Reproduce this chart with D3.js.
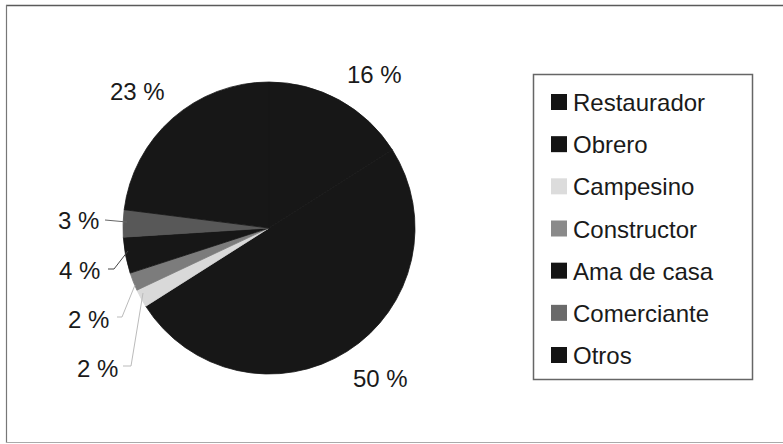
<!DOCTYPE html>
<html>
<head>
<meta charset="utf-8">
<script src="https://cdn.jsdelivr.net/npm/d3@7/dist/d3.min.js"></script>
<style>
  html, body { margin: 0; padding: 0; background: #fff; }
  svg { display: block; font-family: "Liberation Sans", Arial, sans-serif; }
</style>
</head>
<body>
<svg id="chart" width="783" height="444"></svg>
<script>
// Occupation shares (percent), in slice order clockwise from 12 o'clock
const categories = ["Restaurador", "Obrero", "Campesino", "Constructor", "Ama de casa", "Comerciante", "Otros"];
const values = [16, 50, 2, 2, 4, 3, 23];
const sliceColors = ["#171717", "#171717", "#d9d9d9", "#7c7c7c", "#171717", "#585858", "#171717"];
const legendColors = ["#141414", "#141414", "#dcdcdc", "#8a8a8a", "#141414", "#6a6a6a", "#141414"];

const svg = d3.select("#chart");

// outer frame
svg.append("line").attr("x1", 6).attr("x2", 783).attr("y1", 5.5).attr("y2", 5.5)
  .attr("stroke", "#5a5a5a").attr("stroke-width", 1.5);
svg.append("line").attr("x1", 6.5).attr("x2", 6.5).attr("y1", 5).attr("y2", 443)
  .attr("stroke", "#777").attr("stroke-width", 1.2);
svg.append("line").attr("x1", 6).attr("x2", 783).attr("y1", 442.5).attr("y2", 442.5)
  .attr("stroke", "#aaa").attr("stroke-width", 1);

// pie
const cx = 269, cy = 228, r = 146;
const data = categories.map((c, i) => ({ name: c, value: values[i], color: sliceColors[i] }));
const pie = d3.pie().value(d => d.value).sort(null);
const arcs = pie(data);
const arc = d3.arc().innerRadius(0).outerRadius(r);

const g = svg.append("g").attr("transform", `translate(${cx},${cy})`);
g.selectAll("path").data(arcs).join("path")
  .attr("d", arc)
  .attr("fill", d => d.data.color)
  .attr("stroke", d => d.data.color)
  .attr("stroke-width", 0.8);

// percentage labels: position per slice (x, baseline y) and optional leader line
const labelPos = {
  "Restaurador": [347, 83],
  "Obrero": [353, 387],
  "Campesino": [77, 377],
  "Constructor": [68, 328],
  "Ama de casa": [59, 279],
  "Comerciante": [58, 229],
  "Otros": [110, 100]
};
const leaders = {
  "Comerciante": { pts: [[105, 220], [127, 222]], color: "#666" },
  "Ama de casa": { pts: [[108, 269], [114, 269], [128, 251]], color: "#444" },
  "Constructor": { pts: [[117, 317], [122, 317], [135, 285]], color: "#bbb" },
  "Campesino": { pts: [[123, 366], [131, 366], [143, 293]], color: "#bbb" }
};

arcs.forEach(a => {
  const name = a.data.name;
  const ld = leaders[name];
  if (ld) {
    svg.append("path")
      .attr("d", d3.line()(ld.pts))
      .attr("fill", "none")
      .attr("stroke", ld.color)
      .attr("stroke-width", 1);
  }
  const p = labelPos[name];
  svg.append("text")
    .attr("x", p[0]).attr("y", p[1])
    .attr("font-size", 24)
    .attr("fill", "#1a1a1a")
    .text(d3.format("d")(a.data.value) + " %");
});

// legend
const lg = svg.append("g");
lg.append("rect").attr("x", 533.5).attr("y", 74.5).attr("width", 219).attr("height", 305)
  .attr("fill", "#fff").attr("stroke", "#666").attr("stroke-width", 1.5);

const rowY = d3.scalePoint().domain(categories).range([111, 364]);
const rows = lg.selectAll("g.row").data(categories).join("g").attr("class", "row")
  .attr("transform", d => `translate(0,${rowY(d)})`);
rows.append("rect")
  .attr("x", 551).attr("y", -17).attr("width", 16).attr("height", 16)
  .attr("fill", (d, i) => legendColors[i]);
rows.append("text")
  .attr("x", 573).attr("y", 0)
  .attr("font-size", 24)
  .attr("fill", "#1a1a1a")
  .text(d => d);
</script>
</body>
</html>
